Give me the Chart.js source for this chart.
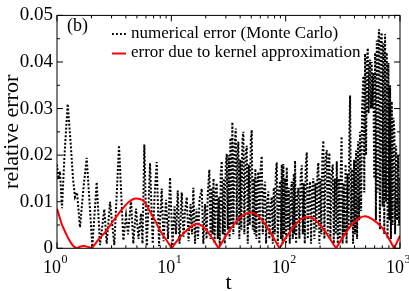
<!DOCTYPE html>
<html>
<head>
<meta charset="utf-8">
<script src="https://cdn.jsdelivr.net/npm/chart.js@4.4.0/dist/chart.umd.min.js"></script>
<style>
  html, body { margin: 0; padding: 0; background: #fff; }
  canvas { display: block; }
</style>
</head>
<body>
<canvas id="errorChart" width="409" height="291"></canvas>
<script>
const serif = "'Liberation Serif', 'Times New Roman', serif";

const seriesLabels = ['numerical error (Monte Carlo)', 'error due to kernel approximation'];
const panelLabel = '(b)';
const xTitle = 't';
const yTitle = 'relative error';

const xMajorTicks = [1, 10, 100, 1000];
const xTickExponents = ['0', '1', '2', '3'];
const xMinorTicks = [2, 3, 4, 5, 6, 7, 8, 9, 20, 30, 40, 50, 60, 70, 80, 90,
    200, 300, 400, 500, 600, 700, 800, 900];
const yMajorTicks = [0, 0.01, 0.02, 0.03, 0.04, 0.05];
const yTickLabels = ['0', '0.01', '0.02', '0.03', '0.04', '0.05'];
const yMinorTicks = [0.005, 0.015, 0.025, 0.035, 0.045];

// Monte Carlo error: log10(t) and value
const mcLogT = [
    0.000, 0.0131, 0.0262, 0.0437, 0.0656, 0.0936, 0.1181, 0.1400, 0.1575, 0.1750,
    0.2012, 0.2318, 0.2598, 0.2843, 0.3088, 0.3473, 0.3762, 0.4138, 0.4348, 0.4637,
    0.5013, 0.5424, 0.5801, 0.6037, 0.6212, 0.6474, 0.6675, 0.6912, 0.7130, 0.7349,
    0.7480, 0.7638, 0.7848, 0.8005, 0.8136, 0.8373, 0.8530, 0.8723, 0.8924, 0.9055,
    0.9160, 0.9318, 0.9536, 0.9711, 0.9886, 1.0105, 1.0280, 1.0411, 1.0560, 1.0717,
    1.0910, 1.1067, 1.1199, 1.1347, 1.1505, 1.1680, 1.1811, 1.1925, 1.2073, 1.2205,
    1.2336, 1.2467, 1.2660, 1.2800, 1.2948, 1.3080, 1.3193, 1.3325,
    1.3430, 1.3517, 1.3605, 1.3692, 1.3780, 1.3867, 1.3972, 1.4060, 1.4147, 1.4235,
    1.4322, 1.4410, 1.4497, 1.4585, 1.4672, 1.4760, 1.4847, 1.4935, 1.5022, 1.5092,
    1.5162, 1.5241, 1.5337, 1.5424, 1.5529, 1.5634, 1.5722, 1.5792, 1.5862, 1.5949,
    1.6037, 1.6124, 1.6212, 1.6299, 1.6387, 1.6492, 1.6597, 1.6684, 1.6772, 1.6859,
    1.6947, 1.7034, 1.7122, 1.7209, 1.7279, 1.7349, 1.7437, 1.7524, 1.7612, 1.7699,
    1.7804, 1.7909, 1.7996, 1.8084, 1.8198, 1.8285, 1.8390, 1.8486, 1.8574, 1.8679,
    1.8784, 1.8871, 1.8959, 1.9046, 1.9134, 1.9221, 1.9309, 1.9405, 1.9510, 1.9598,
    1.9659, 1.9729, 1.9799, 1.9878, 1.9965, 2.0035, 2.0096, 2.0184, 2.0271, 2.0359,
    2.0446, 2.0534, 2.0621, 2.0709, 2.0761, 2.0822, 2.0910, 2.1015, 2.1111, 2.1198,
    2.1304, 2.1409, 2.1496, 2.1584, 2.1671, 2.1759, 2.1846, 2.1934, 2.2030, 2.2135,
    2.2222, 2.2327, 2.2423, 2.2511, 2.2598, 2.2686, 2.2773, 2.2861, 2.2948, 2.3036,
    2.3123, 2.3211, 2.3298, 2.3386, 2.3491, 2.3596, 2.3683, 2.3753, 2.3823, 2.3911,
    2.4016, 2.4121, 2.4208, 2.4296, 2.4383, 2.4471, 2.4558, 2.4646, 2.4733, 2.4821,
    2.4891, 2.4978, 2.5066, 2.5153, 2.5241, 2.5328, 2.5416, 2.5503, 2.5573, 2.5634,
    2.5722, 2.5809, 2.5897, 2.5984, 2.6072, 2.6159, 2.6247, 2.6334, 2.6422, 2.6509,
    2.6597, 2.6684, 2.6798, 2.6877, 2.6947, 2.7034, 2.7104, 2.7183, 2.7253, 2.7314,
    2.7384, 2.7454, 2.7524, 2.7594, 2.7673, 2.7743, 2.7822, 2.7892, 2.7970, 2.8040,
    2.8102, 2.8172, 2.8242, 2.8320, 2.8408, 2.8478, 2.8548, 2.8626, 2.8696, 2.8766,
    2.8845, 2.8915, 2.8985, 2.9064, 2.9134, 2.9204, 2.9283, 2.9353, 2.9423, 2.9510,
    2.9571, 2.9659, 2.9746, 2.9834, 2.9921, 3.0000
];
const mcErr = [
    0.0180, 0.0150, 0.0165, 0.0086, 0.0200, 0.0310, 0.0230, 0.0150, 0.0110, 0.0120,
    0.0045, 0.0130, 0.0194, 0.0100, 0.0003, 0.0142, 0.0007, 0.0084, 0.0010, 0.0100,
    0.0007, 0.0221, 0.0017, 0.0070, 0.0030, 0.0104, 0.0010, 0.0085, 0.0020, 0.0075,
    0.0010, 0.0223, 0.0005, 0.0090, 0.0183, 0.0010, 0.0110, 0.0185, 0.0005, 0.0080,
    0.0128, 0.0015, 0.0104, 0.0020, 0.0152, 0.0005, 0.0090, 0.0030, 0.0124, 0.0010,
    0.0120, 0.0025, 0.0080, 0.0110, 0.0015, 0.0095, 0.0030, 0.0130, 0.0010, 0.0085,
    0.0020, 0.0105, 0.0128, 0.0010, 0.0095, 0.0020, 0.0120, 0.0169,
    0.0020, 0.0130, 0.0030, 0.0150, 0.0010, 0.0120, 0.0140, 0.0020, 0.0110, 0.0005,
    0.0160, 0.0187, 0.0030, 0.0150, 0.0010, 0.0180, 0.0203, 0.0040, 0.0200, 0.0020,
    0.0237, 0.0050, 0.0271, 0.0030, 0.0220, 0.0257, 0.0050, 0.0200, 0.0229, 0.0020,
    0.0190, 0.0040, 0.0230, 0.0250, 0.0030, 0.0200, 0.0220, 0.0010, 0.0180, 0.0050,
    0.0230, 0.0254, 0.0040, 0.0150, 0.0030, 0.0171, 0.0020, 0.0140, 0.0164, 0.0010,
    0.0170, 0.0198, 0.0030, 0.0120, 0.0143, 0.0010, 0.0100, 0.0122, 0.0020, 0.0090,
    0.0110, 0.0010, 0.0130, 0.0030, 0.0160, 0.0184, 0.0010, 0.0120, 0.0144, 0.0020,
    0.0180, 0.0010, 0.0181, 0.0030, 0.0150, 0.0010, 0.0174, 0.0040, 0.0130, 0.0010,
    0.0120, 0.0143, 0.0020, 0.0160, 0.0030, 0.0188, 0.0010, 0.0110, 0.0130, 0.0020,
    0.0150, 0.0178, 0.0030, 0.0140, 0.0010, 0.0180, 0.0206, 0.0020, 0.0120, 0.0143,
    0.0010, 0.0130, 0.0150, 0.0020, 0.0140, 0.0040, 0.0160, 0.0184, 0.0010, 0.0150,
    0.0030, 0.0200, 0.0231, 0.0020, 0.0190, 0.0211, 0.0030, 0.0180, 0.0205, 0.0020,
    0.0160, 0.0180, 0.0010, 0.0150, 0.0030, 0.0187, 0.0010, 0.0150, 0.0020, 0.0170,
    0.0240, 0.0010, 0.0140, 0.0030, 0.0180, 0.0010, 0.0160, 0.0040, 0.0250, 0.0328,
    0.0050, 0.0170, 0.0010, 0.0190, 0.0030, 0.0210, 0.0020, 0.0230, 0.0060, 0.0250,
    0.0080, 0.0300, 0.0370, 0.0120, 0.0418, 0.0200, 0.0400, 0.0430, 0.0290, 0.0390,
    0.0405, 0.0300, 0.0400, 0.0300, 0.0377, 0.0150, 0.0420, 0.0060, 0.0446, 0.0120,
    0.0440, 0.0470, 0.0040, 0.0450, 0.0463, 0.0090, 0.0440, 0.0030, 0.0460, 0.0100,
    0.0420, 0.0020, 0.0398, 0.0060, 0.0350, 0.0020, 0.0315, 0.0050, 0.0280, 0.0250,
    0.0030, 0.0220, 0.0060, 0.0200, 0.0050, 0.0150
];

// kernel approximation error
const kernelT = [1, 1.05, 1.10, 1.18, 1.256, 1.389, 1.496, 1.60, 1.72, 1.86, 2.02,
    2.33, 2.63, 3.09, 3.68, 4.27, 4.91, 5.65, 6.51, 7.2, 7.96, 8.99, 10.08,
    11.2, 12.7, 14.6, 16.7, 18.6, 20.4, 22.9, 25.9,
    28.9, 33.7, 39.9, 48.8, 57.4, 66.0, 76.0, 88.4,
    100.8, 116.7, 135, 158, 184.5, 213.8, 244.6, 276,
    331, 396, 495, 593, 693, 787, 888, 1000];
const kernelErr = [0.0085, 0.0068, 0.0052, 0.0035, 0.0021, 0.0005, 0, 0.0004, 0.0005, 0.0003, 0,
    0.0020, 0.0034, 0.0058, 0.0083, 0.0100, 0.0107, 0.0103, 0.0079, 0.0060, 0.0038, 0.0019, 0,
    0.0016, 0.0031, 0.0045, 0.0052, 0.0048, 0.0038, 0.0021, 0,
    0.0020, 0.0045, 0.0066, 0.0077, 0.0070, 0.0052, 0.0028, 0,
    0.0024, 0.0045, 0.0062, 0.0067, 0.0059, 0.0041, 0.0020, 0,
    0.0031, 0.0056, 0.0069, 0.0060, 0.0045, 0.0024, 0, 0.0027];

const mcPoints = mcLogT.map((e, i) => ({ x: Math.pow(10, e), y: mcErr[i] }));

// split the kernel curve at its zeros so each arch keeps a sharp cusp
const kernelArches = [];
let arch = [];
kernelT.forEach((t, i) => {
    arch.push({ x: t, y: kernelErr[i] });
    if (kernelErr[i] === 0 && arch.length > 1) {
        kernelArches.push(arch);
        arch = [{ x: t, y: 0 }];
    }
});
if (arch.length > 1) kernelArches.push(arch);

const datasets = [{
    label: seriesLabels[0],
    data: mcPoints,
    borderColor: '#000',
    borderWidth: 2,
    borderDash: [2, 1.8],
    pointRadius: 0,
    tension: 0,
    order: 2
}];
kernelArches.forEach(a => datasets.push({
    label: seriesLabels[1],
    data: a,
    borderColor: '#ff0000',
    borderWidth: 2,
    pointRadius: 0,
    cubicInterpolationMode: 'monotone',
    order: 1
}));

const decorations = {
    id: 'decorations',
    afterDraw(chart) {
        const { ctx, chartArea: a, scales: { x, y } } = chart;
        ctx.save();
        ctx.strokeStyle = '#000';
        ctx.lineWidth = 1;
        ctx.strokeRect(a.left, a.top, a.right - a.left, a.bottom - a.top);

        ctx.beginPath();
        const xTick = (v, len) => {
            const px = x.getPixelForValue(v);
            ctx.moveTo(px, a.bottom); ctx.lineTo(px, a.bottom - len);
            ctx.moveTo(px, a.top); ctx.lineTo(px, a.top + len);
        };
        const yTick = (v, len) => {
            const py = y.getPixelForValue(v);
            ctx.moveTo(a.left, py); ctx.lineTo(a.left + len, py);
            ctx.moveTo(a.right, py); ctx.lineTo(a.right - len, py);
        };
        xMajorTicks.forEach(v => xTick(v, 6));
        xMinorTicks.forEach(v => xTick(v, 3));
        yMajorTicks.forEach(v => yTick(v, 6));
        yMinorTicks.forEach(v => yTick(v, 3));
        ctx.stroke();

        ctx.fillStyle = '#000';
        ctx.textBaseline = 'alphabetic';
        ctx.textAlign = 'left';
        xMajorTicks.forEach((v, i) => {
            const px = x.getPixelForValue(v);
            ctx.font = '18px ' + serif;
            const w1 = ctx.measureText('10').width;
            ctx.font = '12px ' + serif;
            const w2 = ctx.measureText(xTickExponents[i]).width;
            const left = px - (w1 + w2) / 2 - 2;
            ctx.font = '18px ' + serif;
            ctx.fillText('10', left, a.bottom + 24.5);
            ctx.font = '12px ' + serif;
            ctx.fillText(xTickExponents[i], left + w1 + 0.5, a.bottom + 15);
        });

        ctx.textAlign = 'center';
        ctx.font = '22px ' + serif;
        ctx.fillText(xTitle, (a.left + a.right) / 2, a.bottom + 41);

        ctx.save();
        ctx.translate(17.5, (a.top + a.bottom) / 2);
        ctx.rotate(-Math.PI / 2);
        ctx.fillText(yTitle, 0, 0);
        ctx.restore();

        ctx.textAlign = 'left';
        ctx.font = '18px ' + serif;
        ctx.fillText(panelLabel, 67, 31);

        ctx.font = '17px ' + serif;
        ctx.fillText(seriesLabels[0], 131, 38);
        ctx.fillText(seriesLabels[1], 131, 57);

        ctx.beginPath();
        ctx.lineWidth = 1.8;
        ctx.setLineDash([1.8, 2.2]);
        ctx.moveTo(112, 34);
        ctx.lineTo(127, 34);
        ctx.stroke();
        ctx.setLineDash([]);
        ctx.beginPath();
        ctx.strokeStyle = '#ff0000';
        ctx.lineWidth = 2;
        ctx.moveTo(112, 53.5);
        ctx.lineTo(126, 53.5);
        ctx.stroke();
        ctx.restore();
    }
};

const errorChartCtx = document.getElementById('errorChart').getContext('2d');
const errorChart = new Chart(errorChartCtx, {
    type: 'line',
    data: { datasets: datasets },
    options: {
        responsive: false,
        animation: false,
        devicePixelRatio: 1,
        layout: { padding: { top: 7.5, right: 9, left: 0, bottom: 0 } },
        plugins: { legend: { display: false }, tooltip: { enabled: false } },
        scales: {
            x: {
                type: 'logarithmic',
                min: 1,
                max: 1000,
                ticks: { display: false },
                grid: { display: false, drawTicks: false },
                border: { display: false },
                afterFit(scale) { scale.height = 42.7; }
            },
            y: {
                min: 0,
                max: 0.05,
                afterBuildTicks(scale) { scale.ticks = yMajorTicks.map(v => ({ value: v })); },
                ticks: {
                    color: '#000',
                    padding: 4,
                    font: { family: serif, size: 19 },
                    callback: (value, index) => yTickLabels[index]
                },
                grid: { display: false, drawTicks: false },
                border: { display: false },
                afterFit(scale) { scale.width = 57; }
            }
        }
    },
    plugins: [decorations]
});
</script>
</body>
</html>
